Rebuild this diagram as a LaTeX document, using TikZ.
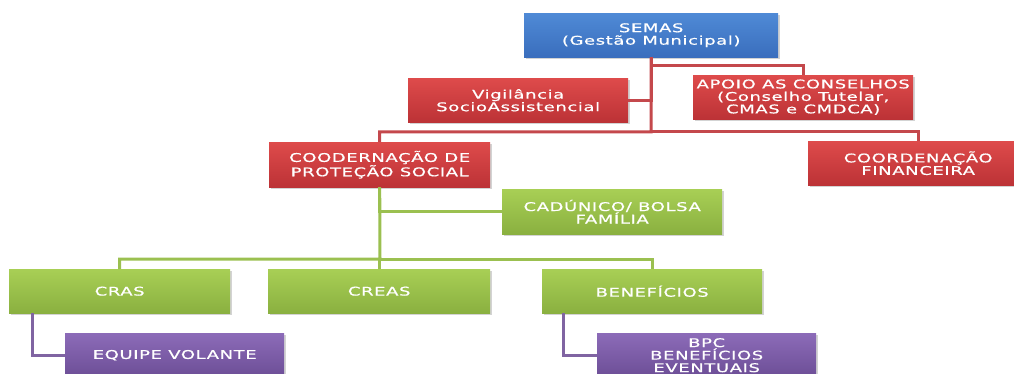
\documentclass[tikz,border=0pt]{standalone}
\usepackage{fontspec}
\setmainfont[FakeStretch=1.5,LetterSpace=5,FakeBold=0.6]{DejaVu Sans}
\usetikzlibrary{shadows, positioning}

\definecolor{blueT}{HTML}{4F8AD6}
\definecolor{blueB}{HTML}{3A6EBD}
\definecolor{redT}{HTML}{DE4B4B}
\definecolor{redB}{HTML}{BC3236}
\definecolor{greenT}{HTML}{A8CF55}
\definecolor{greenB}{HTML}{8AB040}
\definecolor{purT}{HTML}{8C6BB8}
\definecolor{purB}{HTML}{6C4E96}
\definecolor{redline}{HTML}{C4484C}
\definecolor{greenline}{HTML}{9BC050}
\definecolor{purline}{HTML}{8064A2}

\begin{document}
\begin{tikzpicture}[x=1pt, y=-1pt]

\tikzset{box/.style = {shape=rectangle, anchor=north west, minimum width=220pt, minimum height=44pt,
  inner sep=2pt, text=white, align=center, font=\fontsize{12}{12.5}\selectfont,
  drop shadow={shadow xshift=1.5pt, shadow yshift=-1.5pt, opacity=0.35}}}
\tikzset{bluebox/.style = {box, top color=blueT, bottom color=blueB}}
\tikzset{redbox/.style = {box, top color=redT, bottom color=redB}}
\tikzset{greenbox/.style = {box, top color=greenT, bottom color=greenB}}
\tikzset{purbox/.style = {box, top color=purT, bottom color=purB}}
\tikzset{link/.style = {line width=3pt}}

\useasboundingbox (0,0) rectangle (1014,374);

% bus points
\coordinate (redbus) at (651,132);
\coordinate (greenbus) at (380,259);

% vertices
\node[bluebox, minimum width=254pt] (semas) at (524,13) {SEMAS\\(Gestão Municipal)};
\node[redbox] (vig) at (408,78) {Vigilância\\SocioAssistencial};
\node[redbox] (apoio) at (693,75) {APOIO AS CONSELHOS\\(Conselho Tutelar,\\CMAS e CMDCA)};
\node[redbox, minimum width=221pt, minimum height=45pt] (prot) at (269,142) {COODERNAÇÃO DE\\PROTEÇÃO SOCIAL};
\node[redbox] (fin) at (808,141) {COORDENAÇÃO\\FINANCEIRA};
\node[greenbox, minimum height=45pt] (cad) at (502,189) {CADÚNICO/ BOLSA\\FAMÍLIA};
\node[greenbox, minimum width=221pt] (cras) at (9,269) {CRAS};
\node[greenbox, minimum width=222pt] (creas) at (268,269) {CREAS};
\node[greenbox] (benef) at (542,269) {BENEFÍCIOS};
\node[purbox, minimum width=219pt] (equipe) at (65,333) {EQUIPE VOLANTE};
\node[purbox, minimum width=219pt] (bpc) at (597,333) {BPC\\BENEFÍCIOS\\EVENTUAIS};

%edges
\draw [link, redline] (semas.south) |- (vig.east);
\draw [link, redline] (semas.south) -- ++(0,8) -| (apoio.north);
\draw [link, redline] (semas.south) -- (redbus) -| (prot.north);
\draw [link, redline] (redbus) -| (fin.north);
\draw [link, greenline] (prot.south) |- (cad.west);
\draw [link, greenline] (prot.south) -- (greenbus) -| (cras.north);
\draw [link, greenline] (greenbus) -| (creas.north);
\draw [link, greenline] (greenbus) -| (benef.north);
\draw [link, purline] ([xshift=23pt]cras.south west) |- (equipe.west);
\draw [link, purline] ([xshift=21pt]benef.south west) |- (bpc.west);
\end{tikzpicture}
\end{document}
